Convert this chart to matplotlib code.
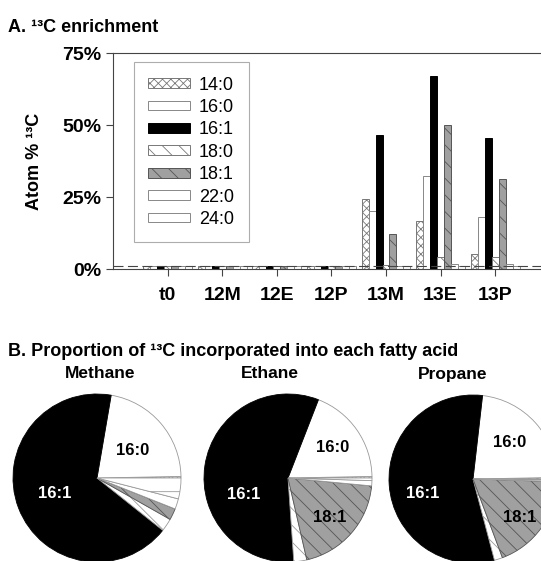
import numpy as np
import matplotlib
matplotlib.use("Agg")
import matplotlib.pyplot as plt
from matplotlib.patches import Patch

plt.rcParams['font.family'] = ['Liberation Sans', 'DejaVu Sans']
plt.rcParams['hatch.linewidth'] = 0.6

# ── Data ──────────────────────────────────────────────────────────────────────
groups = ['t0', '12M', '12E', '12P', '13M', '13E', '13P']
acids = ['14:0', '16:0', '16:1', '18:0', '18:1', '22:0', '24:0']

# atom % 13C per fatty acid, per sample
c14_0 = [1.1, 1.1, 1.1, 1.1, 24.3, 16.6, 5.2]
c16_0 = [1.1, 1.1, 1.1, 1.1, 20.2, 32.2, 18.2]
c16_1 = [1.2, 1.2, 1.2, 1.2, 46.5, 67.0, 45.4]
c18_0 = [1.1, 1.1, 1.1, 1.1, 1.3, 4.3, 4.2]
c18_1 = [1.1, 1.1, 1.1, 1.1, 12.2, 50.0, 31.1]
c22_0 = [1.1, 1.1, 1.1, 1.1, 1.1, 1.7, 1.7]
c24_0 = [1.1, 1.1, 1.1, 1.1, 1.1, 1.2, 1.2]
natural_abundance = 1.1

# proportion of incorporated 13C (%)
pie_titles = ['Methane', 'Ethane', 'Propane']
methane = [0.3, 22.0, 67.0, 2.5, 2.2, 2.0, 4.0]
ethane = [0.3, 18.8, 57.0, 2.5, 19.9, 1.0, 0.5]
propane = [0.3, 23.0, 56.2, 1.6, 18.9, 0.3, 0.2]

# ── Styles ────────────────────────────────────────────────────────────────────
STY = {
    '14:0': dict(facecolor='white', edgecolor='#777777', hatch='xxxx'),
    '16:0': dict(facecolor='white', edgecolor='#888888', hatch=None),
    '16:1': dict(facecolor='black', edgecolor='black', hatch=None),
    '18:0': dict(facecolor='white', edgecolor='#777777', hatch='\\\\'),
    '18:1': dict(facecolor='#a0a0a0', edgecolor='#555555', hatch='\\\\'),
    '22:0': dict(facecolor='white', edgecolor='#888888', hatch=None),
    '24:0': dict(facecolor='white', edgecolor='#888888', hatch='-'),
}

W, H = 541, 561
fig = plt.figure(figsize=(W / 100, H / 100), dpi=100)

def px_axes(x0, y_top, w, h):
    return fig.add_axes([x0 / W, (H - y_top - h) / H, w / W, h / H])

# ── Panel A: bar chart ────────────────────────────────────────────────────────
step = 54.6
ax = px_axes(113, 53, 8 * step, 216)
series = [c14_0, c16_0, c16_1, c18_0, c18_1, c22_0, c24_0]
x = np.arange(1, len(groups) + 1)
bw = 0.128
for i, (name, vals) in enumerate(zip(acids, series)):
    s = STY[name]
    ax.bar(x + (i - 3) * bw, vals, bw, facecolor=s['facecolor'],
           edgecolor=s['edgecolor'], hatch=s['hatch'], linewidth=0.7,
           label=name, zorder=2)
ax.axhline(natural_abundance, color='#444444', linestyle=(0, (9, 4)),
           linewidth=0.8, zorder=3)

ax.set_xlim(0, 8)
ax.set_ylim(0, 75)
ax.set_xticks(x)
ax.set_xticklabels(groups, fontsize=14, fontweight='bold')
ax.set_yticks([0, 25, 50, 75])
ax.set_yticklabels(['0%', '25%', '50%', '75%'], fontsize=14, fontweight='bold')
ax.tick_params(axis='both', length=5, width=0.8, color='#444444')
ax.tick_params(axis='x', pad=8)
for sp in ax.spines.values():
    sp.set_linewidth(0.8)
    sp.set_color('#444444')
ax.set_ylabel('Atom % ¹³C', fontsize=13, fontweight='bold', labelpad=14)

handles = [Patch(facecolor=STY[a]['facecolor'], edgecolor=STY[a]['edgecolor'],
                 hatch=STY[a]['hatch'], linewidth=0.7, label=a) for a in acids]
leg = ax.legend(handles=handles, loc='upper left',
                bbox_to_anchor=(0.048, 0.958), fontsize=13, frameon=True,
                fancybox=False, edgecolor='#999999', handlelength=2.3,
                handleheight=0.45, labelspacing=0.3, handletextpad=0.5,
                borderpad=0.8, borderaxespad=0)
leg.get_frame().set_linewidth(0.8)
leg.set_zorder(5)

fig.text(8 / W, 1 - 28 / H, 'A. ¹³C enrichment', fontsize=13,
         fontweight='bold', va='center', ha='left')
fig.text(8 / W, 1 - 352 / H, 'B. Proportion of ¹³C incorporated into each fatty acid',
         fontsize=13, fontweight='bold', va='center', ha='left')

# ── Panel B: pies ─────────────────────────────────────────────────────────────
pie_data = [methane, ethane, propane]
centers = [(97, 478), (288, 478), (473, 479)]
title_x = [100, 270, 453]
radius = 84
labels_pos = [
    {'16:0': (0.43, 0.33), '16:1': (-0.5, -0.18)},
    {'16:0': (0.53, 0.36), '16:1': (-0.53, -0.2), '18:1': (0.5, -0.47)},
    {'16:0': (0.44, 0.44), '16:1': (-0.6, -0.17), '18:1': (0.56, -0.46)},
]

for vals, (cx, cy), tx, title, lbls in zip(pie_data, centers, title_x,
                                          pie_titles, labels_pos):
    pax = px_axes(cx - radius, cy - radius, 2 * radius, 2 * radius)
    wedges, _ = pax.pie(vals, startangle=0, counterclock=True, radius=1,
                        wedgeprops=dict(linewidth=0.6))
    for w, a in zip(wedges, acids):
        s = STY[a]
        w.set_facecolor(s['facecolor'])
        if a == '16:1':
            w.set_edgecolor('black')
        elif a == '18:1':
            w.set_edgecolor(s['edgecolor'])
        else:
            w.set_edgecolor('#999999')
        if s['hatch']:
            w.set_hatch(s['hatch'])
    pax.set_xlim(-1, 1)
    pax.set_ylim(-1, 1)
    for a, (lx, ly) in lbls.items():
        pax.text(lx, ly, a, fontsize=12, fontweight='bold', ha='center',
                 va='center', color='white' if a == '16:1' else 'black')
    fig.text(tx / W, 1 - 374 / H, title, fontsize=12.5, fontweight='bold',
             ha='center', va='center')

fig.savefig('out.png', dpi=100)
